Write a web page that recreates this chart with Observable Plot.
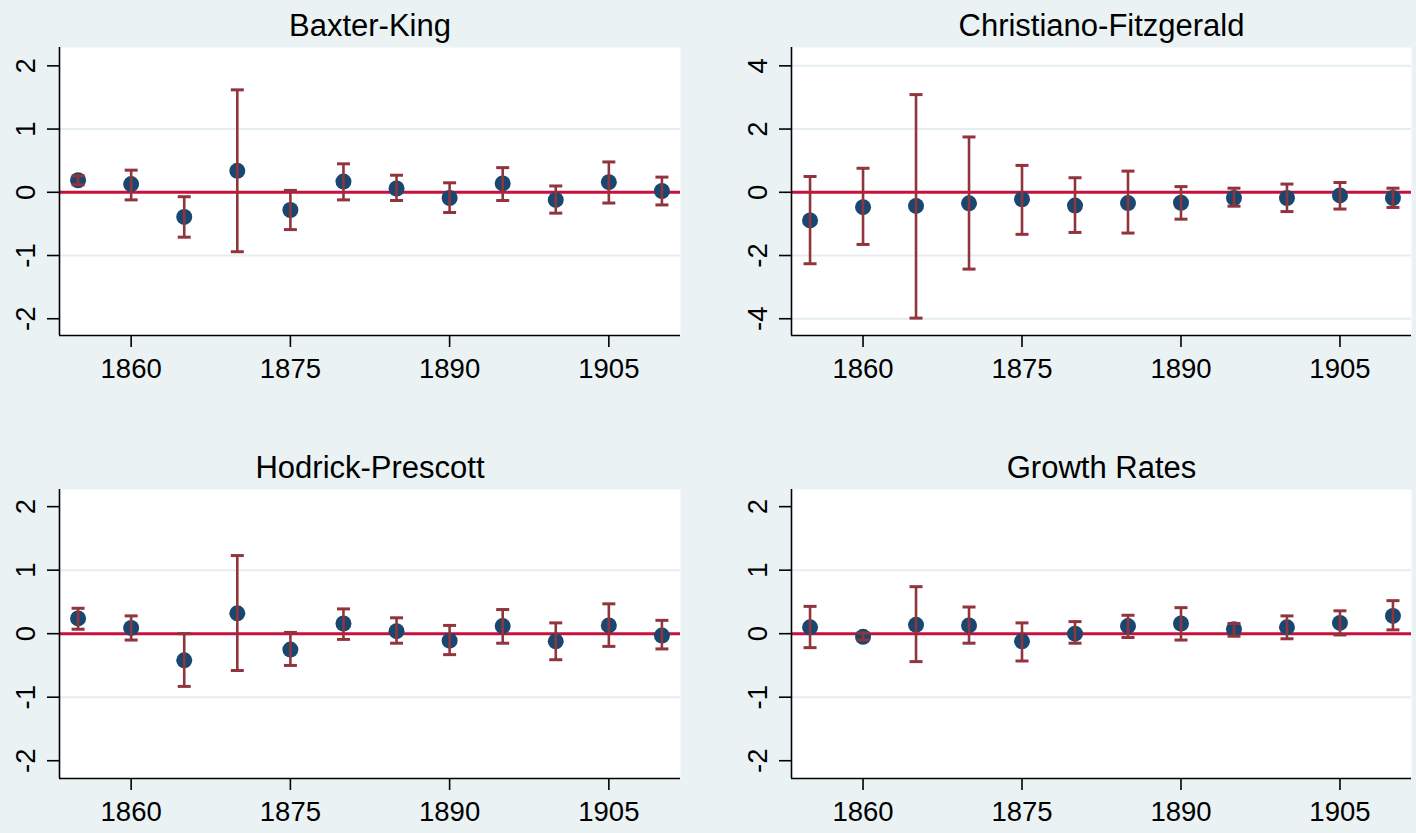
<!DOCTYPE html>
<html>
<head>
<meta charset="utf-8">
<script src="https://cdn.jsdelivr.net/npm/d3@7"></script>
<script src="https://cdn.jsdelivr.net/npm/@observablehq/plot@0.6"></script>
<style>
  body { margin: 0; background: #EAF2F3; }
  #chart { position: relative; width: 1416px; height: 833px; background: #EAF2F3; overflow: hidden; }
  #chart .panel { position: absolute; }
  #chart svg { display: block; }
</style>
</head>
<body>
<div id="chart"></div>
<script>
// ---- data ----
const years = [1855, 1860, 1865, 1870, 1875, 1880, 1885, 1890, 1895, 1900, 1905, 1910];
const xTicks = [1860, 1875, 1890, 1905];

const titles = ["Baxter-King", "Christiano-Fitzgerald", "Hodrick-Prescott", "Growth Rates"];

const bkEst = [0.19, 0.13, -0.39, 0.34, -0.28, 0.17, 0.06, -0.09, 0.14, -0.12, 0.16, 0.02];
const bkLo  = [0.12, -0.12, -0.71, -0.94, -0.59, -0.12, -0.13, -0.32, -0.13, -0.33, -0.17, -0.20];
const bkHi  = [0.26, 0.35, -0.07, 1.62, 0.03, 0.45, 0.27, 0.15, 0.39, 0.10, 0.48, 0.24];

const cfEst = [-0.89, -0.47, -0.43, -0.35, -0.22, -0.42, -0.34, -0.33, -0.18, -0.18, -0.10, -0.18];
const cfLo  = [-2.26, -1.65, -3.98, -2.43, -1.33, -1.27, -1.29, -0.85, -0.44, -0.61, -0.53, -0.48];
const cfHi  = [0.50, 0.76, 3.09, 1.75, 0.85, 0.46, 0.67, 0.18, 0.13, 0.26, 0.31, 0.13];

const hpEst = [0.24, 0.09, -0.42, 0.32, -0.25, 0.16, 0.04, -0.11, 0.12, -0.12, 0.13, -0.03];
const hpLo  = [0.07, -0.10, -0.83, -0.58, -0.50, -0.09, -0.15, -0.33, -0.15, -0.41, -0.20, -0.24];
const hpHi  = [0.40, 0.28, 0.00, 1.23, 0.02, 0.39, 0.25, 0.13, 0.38, 0.17, 0.47, 0.21];

const grEst = [0.10, -0.05, 0.14, 0.13, -0.12, 0.00, 0.12, 0.16, 0.07, 0.10, 0.17, 0.28];
const grLo  = [-0.22, -0.10, -0.44, -0.15, -0.43, -0.15, -0.06, -0.10, -0.04, -0.08, -0.02, 0.06];
const grHi  = [0.43, 0.01, 0.74, 0.42, 0.17, 0.19, 0.29, 0.41, 0.16, 0.28, 0.36, 0.52];

const yTicksSmall = [-2, -1, 0, 1, 2];
const yTicksLarge = [-4, -2, 0, 2, 4];
const gridSmall = [-1, 1];
const gridLarge = [-4, -2, 2, 4];

// ---- drawing ----
const xDomain = [1853.25, 1911.75];
const FONT = "'Liberation Sans', Arial, Helvetica, sans-serif";
const capSymbol = {
  draw(ctx, size) {
    const w = Math.sqrt(size / Math.PI);
    ctx.moveTo(-w, 0);
    ctx.lineTo(w, 0);
  }
};

function panel(o) {
  const data = years.map((year, i) => ({year, est: o.est[i], lo: o.lo[i], hi: o.hi[i]}));
  const svg = Plot.plot({
    width: o.width, height: o.height,
    marginLeft: o.ml, marginRight: o.mr, marginTop: o.mt, marginBottom: o.mb,
    style: {background: "transparent", fontFamily: FONT, color: "black", overflow: "visible"},
    x: {domain: xDomain},
    y: {domain: o.yDomain},
    marks: [
      Plot.frame({fill: "white", stroke: null}),
      Plot.ruleY(o.grid, {stroke: "#E4EDF0", strokeWidth: 2}),
      Plot.ruleY([0], {stroke: "#C8103C", strokeWidth: 3}),
      Plot.dot(data, {x: "year", y: "est", r: 8, fill: "#1A476F", stroke: null}),
      Plot.ruleX(data, {x: "year", y1: "lo", y2: "hi", stroke: "#90353B", strokeWidth: 2.6}),
      Plot.dot(data, {x: "year", y: "lo", symbol: capSymbol, r: 6.5, fill: "none", stroke: "#90353B", strokeWidth: 3}),
      Plot.dot(data, {x: "year", y: "hi", symbol: capSymbol, r: 6.5, fill: "none", stroke: "#90353B", strokeWidth: 3}),
      Plot.ruleX([xDomain[0]], {stroke: "black", strokeWidth: 1.6}),
      Plot.ruleY([o.yDomain[0]], {stroke: "black", strokeWidth: 1.6}),
      Plot.axisX({ticks: xTicks, tickSize: 12, tickPadding: 11, fontSize: 27.5, strokeWidth: 1.6,
                  tickFormat: d => String(d), label: null}),
      Plot.axisY({ticks: o.yTicks, tickSize: 12, strokeWidth: 1.6, tickFormat: () => "", label: null}),
      Plot.text(o.yTicks, {y: d => d, frameAnchor: "left", dx: -33, rotate: -90, text: d => String(d),
                           fontSize: 27.5, textAnchor: "middle", lineAnchor: "middle", fill: "black"}),
      Plot.text([o.title], {frameAnchor: "top", dy: -12, lineAnchor: "bottom", text: d => d,
                            fontSize: 31, fill: "black"})
    ]
  });
  const div = document.createElement("div");
  div.className = "panel";
  div.style.left = o.left + "px";
  div.style.top = o.top + "px";
  div.appendChild(svg);
  document.getElementById("chart").appendChild(div);
}

panel({title: titles[0], est: bkEst, lo: bkLo, hi: bkHi, yDomain: [-2.265, 2.29], yTicks: yTicksSmall, grid: gridSmall,
       left: 0, top: 0, width: 708, height: 400, ml: 59, mr: 28, mt: 47, mb: 65});
panel({title: titles[1], est: cfEst, lo: cfLo, hi: cfHi, yDomain: [-4.53, 4.58], yTicks: yTicksLarge, grid: gridLarge,
       left: 708, top: 0, width: 708, height: 400, ml: 83, mr: 5, mt: 47, mb: 65});
panel({title: titles[2], est: hpEst, lo: hpLo, hi: hpHi, yDomain: [-2.28, 2.27], yTicks: yTicksSmall, grid: gridSmall,
       left: 0, top: 440, width: 708, height: 393, ml: 59, mr: 28, mt: 49, mb: 55});
panel({title: titles[3], est: grEst, lo: grLo, hi: grHi, yDomain: [-2.28, 2.27], yTicks: yTicksSmall, grid: gridSmall,
       left: 708, top: 440, width: 708, height: 393, ml: 83, mr: 5, mt: 49, mb: 55});
</script>
</body>
</html>
